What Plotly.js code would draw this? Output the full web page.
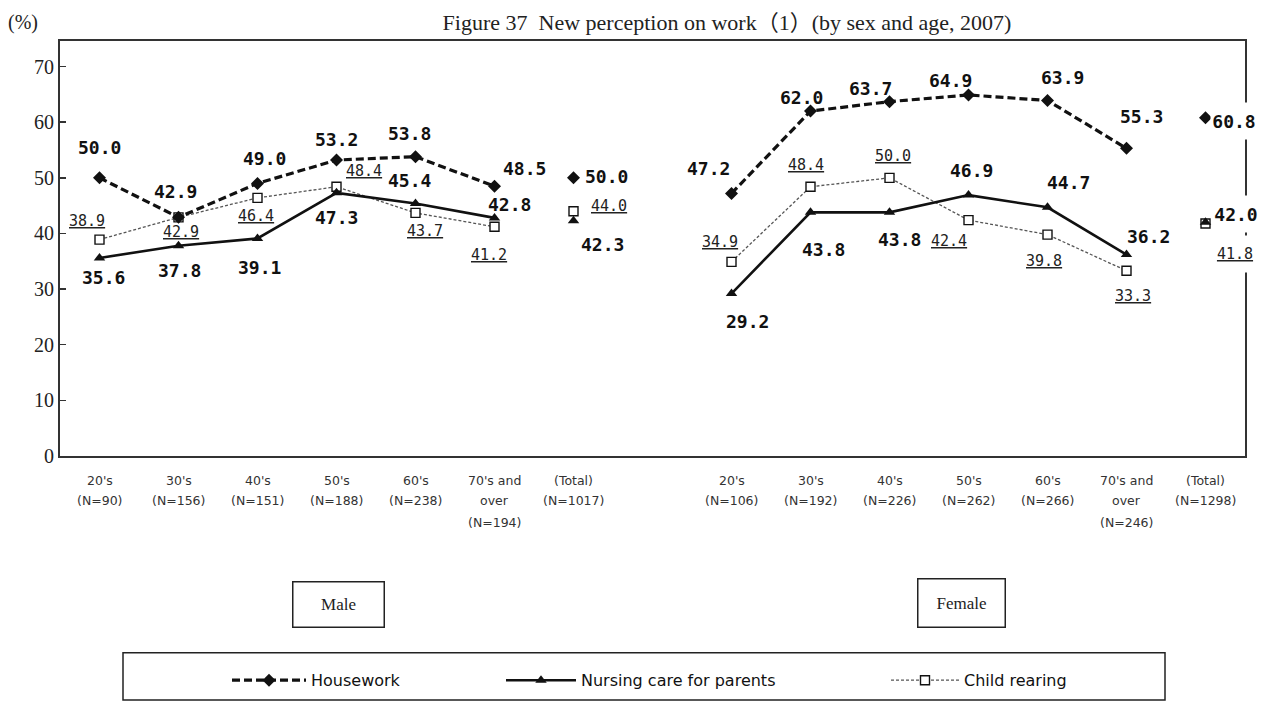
<!DOCTYPE html>
<html>
<head>
<meta charset="utf-8">
<script src="https://cdn.plot.ly/plotly-3.0.1.min.js"></script>
<style>
  html, body { margin: 0; padding: 0; background: #fff; }
  #chart { width: 1269px; height: 709px; }
</style>
</head>
<body>
<div id="chart"></div>
<script>
// ---- data -------------------------------------------------------------
// Age groups (the last entry is the total for each sex)
const ageGroups = [["20's"], ["30's"], ["40's"], ["50's"], ["60's"], ["70's and", "over"], ["(Total)"]];
const maleN   = [90, 156, 151, 188, 238, 194, 1017];
const femaleN = [106, 192, 226, 262, 266, 246, 1298];

// Percentages per age group, last value = total
const maleHousework   = [50.0, 42.9, 49.0, 53.2, 53.8, 48.5, 50.0];
const maleNursing     = [35.6, 37.8, 39.1, 47.3, 45.4, 42.8, 42.3];
const maleChild       = [38.9, 42.9, 46.4, 48.4, 43.7, 41.2, 44.0];
const femaleHousework = [47.2, 62.0, 63.7, 64.9, 63.9, 55.3, 60.8];
const femaleNursing   = [29.2, 43.8, 43.8, 46.9, 44.7, 36.2, 42.0];
const femaleChild     = [34.9, 48.4, 50.0, 42.4, 39.8, 33.3, 41.8];

const seriesNames = ["Housework", "Nursing care for parents", "Child rearing"];
const yTicks = [0, 10, 20, 30, 40, 50, 60, 70];

// ---- layout helpers ---------------------------------------------------
// 15 category slots: 7 male, one empty slot, 7 female
const MALE_START = 0, FEMALE_START = 8, N_SLOTS = 15;
const PLOT = { l: 60, r: 1245, t: 41, b: 461 };
const Y_MAX = 74.6;
const px2x = px => (px - PLOT.l) / (PLOT.r - PLOT.l);
const py2y = py => (PLOT.b - py) / (PLOT.b - PLOT.t);
const nAges = ageGroups.length - 1;

// pixel offsets [dx, dy] of each value label from its point (dy downwards)
const labelOffsets = {
  maleHousework:   [[0,-30],[-3,-26],[7,-25],[0,-21],[-6,-23],[30,-18],[33,-1]],
  maleNursing:     [[4,20],[1,25],[2,29],[0,25],[-6,-23],[15,-13],[29,24]],
  maleChild:       [[-13,-19],[2,15],[-2,18],[27,-16],[9,18],[-6,28],[35,-5]],
  femaleHousework: [[-23,-25],[-9,-14],[-19,-13],[-18,-14],[15,-23],[15,-32],[28,3]],
  femaleNursing:   [[16,28],[13,37],[10,27],[3,-25],[21,-25],[22,-18],[30,-8]],
  femaleChild:     [[-12,-20],[-5,-22],[3,-22],[-20,21],[-4,26],[6,25],[29,31]]
};

const styles = {
  housework: {
    line: { color: '#111', width: 3.2, dash: '8px,4px' },
    marker: { symbol: 'diamond', size: 10, color: '#111' }
  },
  nursing: {
    line: { color: '#111', width: 2.6 },
    marker: { symbol: 'triangle-up', size: 10, color: '#111' }
  },
  child: {
    line: { color: '#555', width: 1.3, dash: '3px,2px' },
    marker: { symbol: 'square', size: 9, color: '#fff', line: { color: '#111', width: 1.4 } }
  }
};

// line through the six age groups of both sexes, broken between the sexes
function ageLine(male, female) {
  const x = [], y = [];
  for (let i = 0; i < nAges; i++) { x.push(MALE_START + i); y.push(male[i]); }
  x.push(null); y.push(null);
  for (let i = 0; i < nAges; i++) { x.push(FEMALE_START + i); y.push(female[i]); }
  return { x, y };
}
function totals(male, female) {
  return { x: [MALE_START + nAges, FEMALE_START + nAges], y: [male[nAges], female[nAges]] };
}

const groups = [
  { name: seriesNames[2], male: maleChild, female: femaleChild, st: styles.child, legend: 'legend3' },
  { name: seriesNames[1], male: maleNursing, female: femaleNursing, st: styles.nursing, legend: 'legend2' },
  { name: seriesNames[0], male: maleHousework, female: femaleHousework, st: styles.housework, legend: 'legend' }
];

const traces = [];
groups.forEach(g => {
  const l = ageLine(g.male, g.female);
  traces.push({
    type: 'scatter', mode: 'lines+markers', name: g.name, legend: g.legend,
    x: l.x, y: l.y, connectgaps: false,
    line: g.st.line, marker: g.st.marker, hoverinfo: 'x+y'
  });
  const t = totals(g.male, g.female);
  traces.push({
    type: 'scatter', mode: 'markers', name: g.name + ' (Total)', showlegend: false,
    x: t.x, y: t.y, marker: g.st.marker, hoverinfo: 'y'
  });
});

// ---- annotations ------------------------------------------------------
const annotations = [];
const boldFont = { family: 'DejaVu Sans Mono', size: 18, color: '#111', weight: 'bold' };
const thinFont = { family: 'DejaVu Sans Mono', size: 15, color: '#222' };

// totals of the right-hand group sit on the frame and mask it with a white box
function addValueLabels(vals, start, offs, font, underline, maskTotal) {
  vals.forEach((v, i) => {
    const txt = v.toFixed(1);
    const a = {
      x: start + i, y: v, xref: 'x', yref: 'y', showarrow: false,
      xanchor: 'center', yanchor: 'middle',
      text: underline ? '<u>' + txt + '</u>' : '<b>' + txt + '</b>',
      xshift: offs[i][0], yshift: -offs[i][1], font: font
    };
    if (maskTotal && i === nAges) {
      a.bgcolor = '#fff'; a.borderpad = 0; a.width = 46; a.height = 36;
    }
    annotations.push(a);
  });
}
addValueLabels(maleHousework, MALE_START, labelOffsets.maleHousework, boldFont, false, false);
addValueLabels(maleNursing, MALE_START, labelOffsets.maleNursing, boldFont, false, false);
addValueLabels(maleChild, MALE_START, labelOffsets.maleChild, thinFont, true, false);
addValueLabels(femaleHousework, FEMALE_START, labelOffsets.femaleHousework, boldFont, false, true);
addValueLabels(femaleNursing, FEMALE_START, labelOffsets.femaleNursing, boldFont, false, true);
addValueLabels(femaleChild, FEMALE_START, labelOffsets.femaleChild, thinFont, true, true);

// category labels under the axis, one annotation per text line
const catFont = { family: 'DejaVu Sans', size: 12.5, color: '#333' };
const catLineY = [486, 506, 528];
function addCategoryLabels(start, ns) {
  ageGroups.forEach((lines, i) => {
    const all = lines.concat(['(N=' + ns[i] + ')']);
    all.forEach((t, k) => {
      annotations.push({
        x: start + i, xref: 'x', y: py2y(catLineY[k]), yref: 'paper',
        xanchor: 'center', yanchor: 'middle', showarrow: false, text: t, font: catFont
      });
    });
  });
}
addCategoryLabels(MALE_START, maleN);
addCategoryLabels(FEMALE_START, femaleN);

// unit label and sex boxes
annotations.push({
  x: px2x(23), y: py2y(22), xref: 'paper', yref: 'paper', showarrow: false,
  xanchor: 'center', yanchor: 'middle',
  text: '(%)', font: { family: 'Liberation Serif', size: 20, color: '#222' }
});
const boxFont = { family: 'Liberation Serif', size: 17, color: '#222' };
annotations.push({
  x: px2x(338), y: py2y(611), xref: 'paper', yref: 'paper', showarrow: false,
  xanchor: 'center', yanchor: 'middle',
  text: 'Male', font: boxFont, width: 88, height: 42, borderwidth: 1.5, bordercolor: '#222', borderpad: 1
});
annotations.push({
  x: px2x(961), y: py2y(610), xref: 'paper', yref: 'paper', showarrow: false,
  xanchor: 'center', yanchor: 'middle',
  text: 'Female', font: boxFont, width: 84, height: 45, borderwidth: 1.5, bordercolor: '#222', borderpad: 1
});

// ---- legends ----------------------------------------------------------
const legendFont = { family: 'DejaVu Sans', size: 16, color: '#111' };
function legendAt(pxLeft, itemw) {
  return {
    x: px2x(pxLeft), xanchor: 'left', y: py2y(688), yanchor: 'middle',
    orientation: 'h', font: legendFont, bgcolor: 'rgba(0,0,0,0)', borderwidth: 0,
    itemwidth: itemw, itemclick: false, itemdoubleclick: false
  };
}

const layout = {
  width: 1269, height: 709,
  margin: { l: PLOT.l, r: 1269 - PLOT.r, t: PLOT.t, b: 709 - PLOT.b, pad: 0 },
  paper_bgcolor: '#fff', plot_bgcolor: '#fff',
  title: {
    text: 'Figure 37  New perception on work（1）(by sex and age, 2007)',
    x: 727 / 1269, xref: 'container', xanchor: 'center',
    y: 1 - 22 / 709, yref: 'container', yanchor: 'middle',
    font: { family: 'Liberation Serif, Noto Sans CJK JP', size: 22, color: '#222' }
  },
  xaxis: {
    range: [-0.5, N_SLOTS - 0.5], showgrid: false, zeroline: false,
    showticklabels: false, ticks: '', showline: true, mirror: true,
    linecolor: '#333', linewidth: 2, fixedrange: true
  },
  yaxis: {
    range: [0, Y_MAX],
    tickvals: yTicks, ticktext: yTicks.map(String),
    ticks: 'inside', ticklen: 6, tickwidth: 1.5, tickcolor: '#333',
    showgrid: false, zeroline: false, showline: true, mirror: true,
    linecolor: '#333', linewidth: 2,
    tickfont: { family: 'Liberation Serif', size: 20, color: '#222' },
    fixedrange: true
  },
  showlegend: true,
  legend: legendAt(227, 74),
  legend2: legendAt(501, 70),
  legend3: legendAt(886, 68),
  shapes: [{
    type: 'rect', xref: 'paper', yref: 'paper',
    x0: px2x(123), x1: px2x(1165), y0: py2y(708), y1: py2y(660),
    line: { color: '#222', width: 1.5 }, fillcolor: 'rgba(0,0,0,0)', layer: 'above'
  }],
  annotations: annotations
};

Plotly.newPlot('chart', traces, layout, { displayModeBar: false, staticPlot: true });
</script>
</body>
</html>
